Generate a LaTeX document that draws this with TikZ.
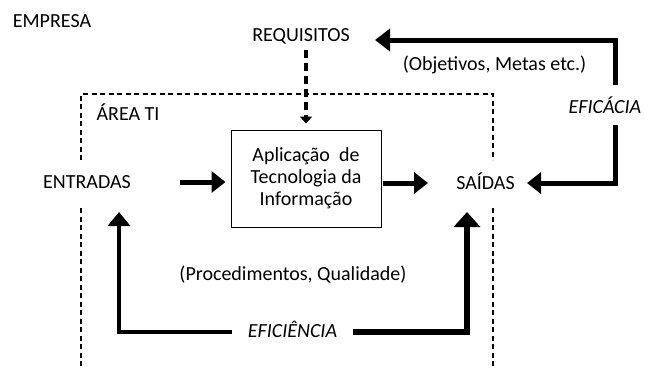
\documentclass[tikz,border=0pt]{standalone}
\usepackage{fontspec}
\setmainfont{Carlito}
\usetikzlibrary{arrows.meta}
\begin{document}
\begin{tikzpicture}[x=1pt,y=-1pt,
  lbl/.style={font=\fontsize{20}{22}\selectfont, inner sep=0pt, anchor=base},
  frame/.style={line width=1.2pt, dash pattern=on 5pt off 3.5pt},
  bigarrow/.style={line width=5pt, line join=miter, -{Triangle[width=21pt,length=14pt]}},
  dasharrow/.style={line width=3.5pt, dash pattern=on 8pt off 5pt, -{Triangle[width=12pt,length=7pt]}},
  procbox/.style={draw, line width=1pt, minimum width=150pt, minimum height=97pt, align=center,
    font=\fontsize{20}{22}\selectfont, inner sep=0pt}
]
\useasboundingbox (0,0) rectangle (645,368);

% dashed frame (ÁREA TI)
\draw[frame] (81,160) -- (81,94) -- (493,94) -- (493,160);
\draw[frame] (81,208) -- (81,370);
\draw[frame] (493,208) -- (493,370);

% texts
\node[lbl] (emp) at (52,27) {EMPRESA};
\node[lbl] (req) at (301,41) {REQUISITOS};
\node[lbl] (obj) at (494.5,70.5) {(Objetivos, Metas etc.)};
\node[lbl] (area) at (128,120) {ÁREA TI};
\node[lbl] (efc) at (605,113) {\itshape EFICÁCIA};
\node[lbl] (ent) at (87,188) {ENTRADAS};
\node[lbl] (sai) at (485.5,189) {SAÍDAS};
\node[lbl] (proc) at (293,280.5) {(Procedimentos, Qualidade)};
\node[lbl] (efi) at (292.5,337) {\itshape EFICIÊNCIA};

\node[procbox] (box) at (306,178.5) {Aplicação~ de\\Tecnologia da\\Informação};

% anchor points for the thick connectors
\coordinate (reqin) at (375,40);
\coordinate (efctop) at (615,85);
\coordinate (efcbot) at (615,125);
\coordinate (saiin) at (527,183);
\coordinate (entup) at (119,212);
\coordinate (saiup) at (467,212);
\coordinate (efil) at (232,332);
\coordinate (efir) at (353,332);
\coordinate (entout) at (180,182);
\coordinate (boxout) at (383,183);
\coordinate (saiin2) at (428,183);
\coordinate (reqout) at (306,50);

% dashed arrow from REQUISITOS down into the box
\draw[dasharrow, shorten >=6pt] (reqout) -- (box.north);

% horizontal flow arrows
\draw[bigarrow, shorten >=5pt] (entout) -- (box.west |- entout);
\draw[bigarrow] (boxout) -- (saiin2);

% EFICÁCIA loop
\draw[line width=5pt, line join=miter, -{Triangle[width=22pt,length=15pt]}] (efctop) |- (reqin);
\draw[line width=5pt, line join=miter, -{Triangle[width=21pt,length=14pt]}] (efcbot) |- (saiin);

% EFICIÊNCIA loop
\draw[line width=4pt, line join=miter, -{Triangle[width=22pt,length=14pt]}] (efil) -| (entup);
\draw[line width=6pt, line join=miter, -{Triangle[width=26pt,length=15pt]}] (efir) -| (saiup);
\end{tikzpicture}
\end{document}
